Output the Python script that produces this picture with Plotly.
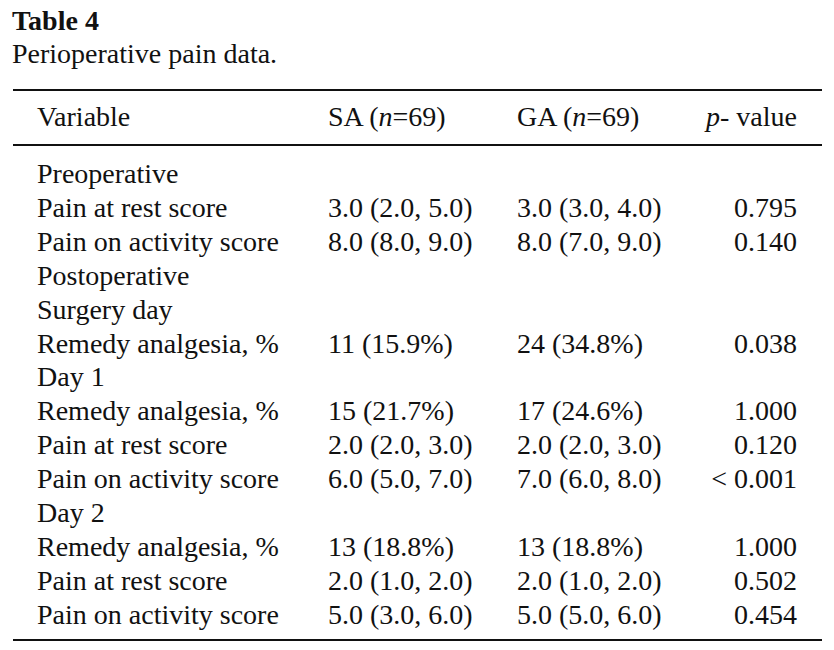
import plotly.graph_objects as go

title = "Table 4"
subtitle = "Perioperative pain data."
headers = ["Variable", "SA (<i>n</i>=69)", "GA (<i>n</i>=69)", "<i>p</i>- value"]

variables = ["Preoperative", "Pain at rest score", "Pain on activity score", "Postoperative",
             "Surgery day", "Remedy analgesia, %", "Day 1", "Remedy analgesia, %",
             "Pain at rest score", "Pain on activity score", "Day 2", "Remedy analgesia, %",
             "Pain at rest score", "Pain on activity score"]
sa = ["", "3.0 (2.0, 5.0)", "8.0 (8.0, 9.0)", "", "", "11 (15.9%)", "", "15 (21.7%)",
      "2.0 (2.0, 3.0)", "6.0 (5.0, 7.0)", "", "13 (18.8%)", "2.0 (1.0, 2.0)", "5.0 (3.0, 6.0)"]
ga = ["", "3.0 (3.0, 4.0)", "8.0 (7.0, 9.0)", "", "", "24 (34.8%)", "", "17 (24.6%)",
      "2.0 (2.0, 3.0)", "7.0 (6.0, 8.0)", "", "13 (18.8%)", "2.0 (1.0, 2.0)", "5.0 (5.0, 6.0)"]
pval = ["", "0.795", "0.140", "", "", "0.038", "", "1.000", "0.120", "< 0.001", "",
        "1.000", "0.502", "0.454"]

W, H = 834, 650
FONT = "Liberation Serif, Times New Roman, serif"
FS = 28
COLOR = "#111"
row0, dy = 176, 33.9
rows_y = [row0 + i * dy for i in range(len(variables))]

fig = go.Figure()
col_x = [37, 328, 517]


def add_text(xs, ys, texts, pos, size=FS):
    fig.add_trace(go.Scatter(x=xs, y=ys, text=texts, mode="text", textposition=pos,
                             hoverinfo="skip", cliponaxis=False,
                             textfont=dict(family=FONT, size=size, color=COLOR)))


for x, col in zip(col_x, [variables, sa, ga]):
    add_text([x] * len(col), rows_y, col, "middle right")
add_text([797] * len(pval), rows_y, pval, "middle left")
add_text(col_x, [119] * 3, headers[:3], "middle right")
add_text([797], [119], [headers[3]], "middle left")
add_text([12], [23], ["<b>" + title + "</b>"], "middle right", 28)
add_text([12], [56], [subtitle], "middle right")

for y in [90, 145, 640]:
    fig.add_shape(type="line", x0=13, x1=822, y0=y, y1=y, xref="x", yref="y",
                  line=dict(color=COLOR, width=2))

fig.update_layout(width=W, height=H, margin=dict(l=0, r=0, t=0, b=0),
                  plot_bgcolor="white", paper_bgcolor="white", showlegend=False,
                  xaxis=dict(range=[0, W], visible=False, fixedrange=True),
                  yaxis=dict(range=[H, 0], visible=False, fixedrange=True))
fig.write_html("out.html", config={"displayModeBar": False},
               post_script="document.body.style.margin='0';document.body.style.overflow='hidden';")
